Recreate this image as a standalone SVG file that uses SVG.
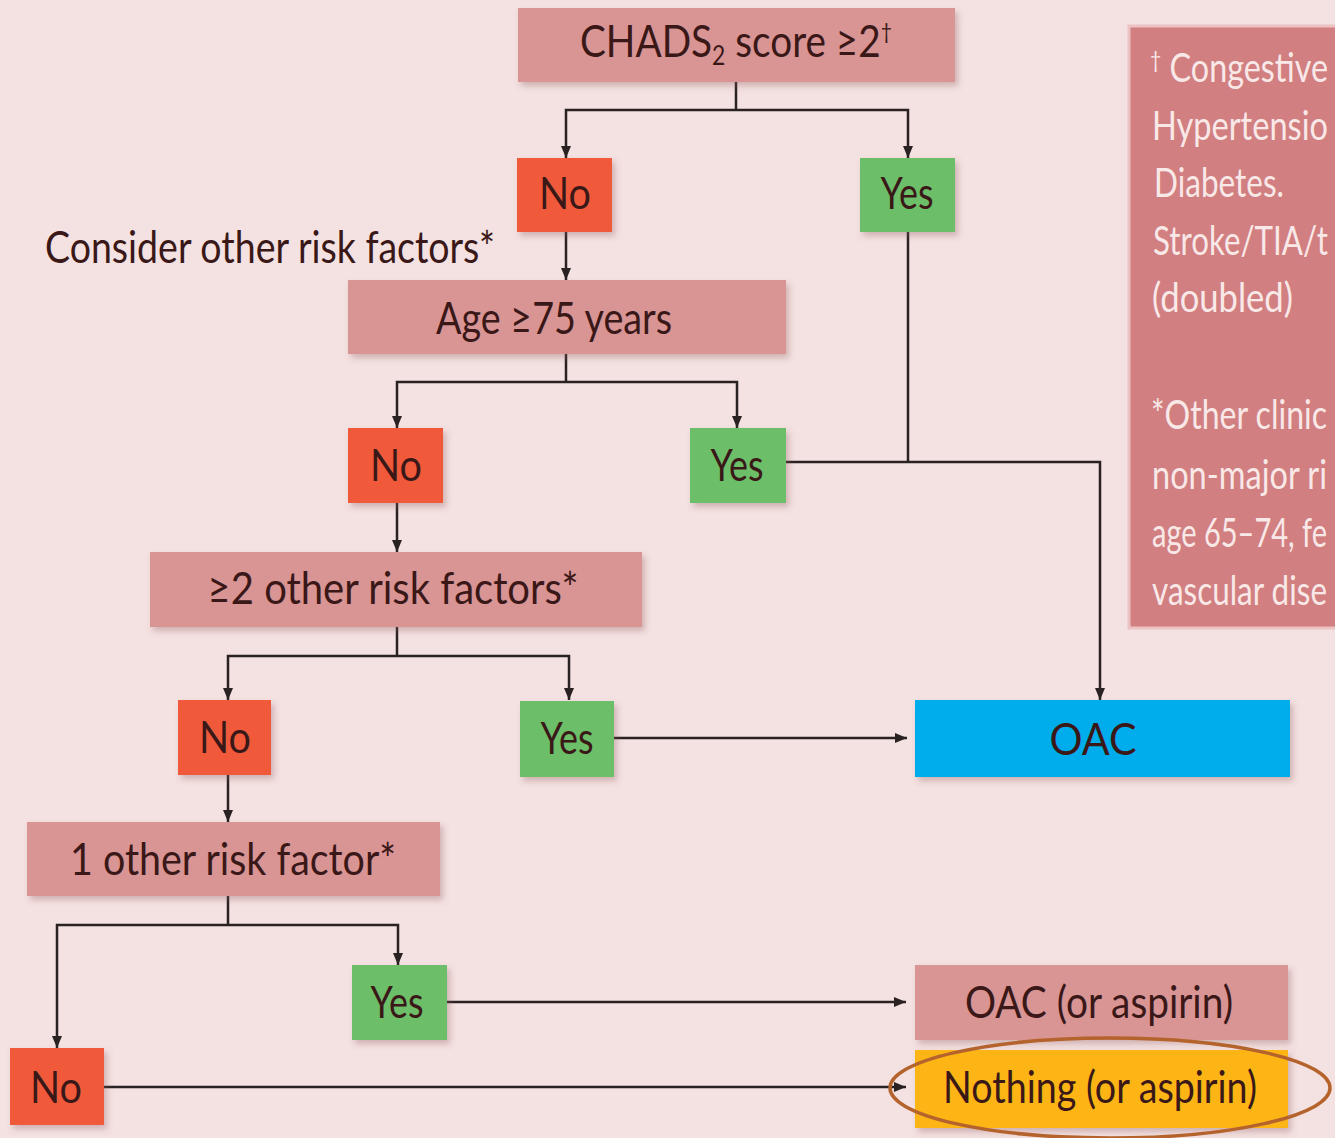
<svg xmlns="http://www.w3.org/2000/svg" width="1335" height="1138" viewBox="0 0 1335 1138">
<style>
.t{font-family:Lato,"Liberation Sans",sans-serif;font-size:44px;fill:#3a1818;text-anchor:middle}
.pk{fill:#d99494}
.no{fill:#f05a3a}
.yes{fill:#6cbf67}
.c{fill:none;stroke:#2a2222;stroke-width:2.5}
.lg{font-family:Lato,"Liberation Sans",sans-serif;font-size:40px;fill:#f9e8e8}
</style>
<defs>
<marker id="ah" viewBox="0 0 12 10" markerWidth="12" markerHeight="10" refX="12" refY="5" orient="auto-start-reverse" markerUnits="userSpaceOnUse">
<path d="M0,0 L12,5 L0,10 z" fill="#2a2222"/>
</marker>
<filter id="sh" x="-10%" y="-10%" width="130%" height="140%">
<feDropShadow dx="3" dy="4" stdDeviation="3" flood-color="#8a5a5a" flood-opacity="0.35"/>
</filter>
</defs>
<rect x="0" y="0" width="1335" height="1138" fill="#f4e1e1"/>

<g id="connectors">
<path class="c" d="M736,82 V110"/>
<path class="c" d="M566,158 V110 H908 V158" marker-start="url(#ah)" marker-end="url(#ah)"/>
<path class="c" d="M566,232 V280" marker-end="url(#ah)"/>
<path class="c" d="M566,354 V382"/>
<path class="c" d="M397,428 V382 H737 V428" marker-start="url(#ah)" marker-end="url(#ah)"/>
<path class="c" d="M908,232 V462"/>
<path class="c" d="M786,462 H1100 V700" marker-end="url(#ah)"/>
<path class="c" d="M397,503 V552" marker-end="url(#ah)"/>
<path class="c" d="M397,627 V656"/>
<path class="c" d="M228,700 V656 H569 V700" marker-start="url(#ah)" marker-end="url(#ah)"/>
<path class="c" d="M614,738 H907" marker-end="url(#ah)"/>
<path class="c" d="M228,775 V822" marker-end="url(#ah)"/>
<path class="c" d="M228,896 V925"/>
<path class="c" d="M57,1048 V925 H398 V965" marker-start="url(#ah)" marker-end="url(#ah)"/>
<path class="c" d="M447,1002 H906" marker-end="url(#ah)"/>
<path class="c" d="M104,1087 H906" marker-end="url(#ah)"/>
</g>

<g id="chads">
<rect class="pk" x="518" y="8" width="437" height="74" filter="url(#sh)"/>
<text class="t" x="736" y="57" textLength="312" lengthAdjust="spacingAndGlyphs">CHADS<tspan font-size="26" dy="8">2</tspan><tspan dy="-8"> score ≥2</tspan><tspan font-size="22" dy="-18">†</tspan></text>
</g>
<g id="no1">
<rect class="no" x="517" y="158" width="95" height="74" filter="url(#sh)"/>
<text class="t" x="565" y="209" textLength="52" lengthAdjust="spacingAndGlyphs">No</text>
</g>
<g id="yes1">
<rect class="yes" x="860" y="158" width="95" height="74" filter="url(#sh)"/>
<text class="t" x="907" y="209" textLength="53" lengthAdjust="spacingAndGlyphs">Yes</text>
</g>
<g id="consider">
<text class="t" x="270" y="263" font-size="40" textLength="450" lengthAdjust="spacingAndGlyphs">Consider other risk factors*</text>
</g>
<g id="age">
<rect class="pk" x="348" y="280" width="438" height="74" filter="url(#sh)"/>
<text class="t" x="554" y="334" textLength="236" lengthAdjust="spacingAndGlyphs">Age ≥75 years</text>
</g>
<g id="no2">
<rect class="no" x="348" y="428" width="95" height="75" filter="url(#sh)"/>
<text class="t" x="396" y="481" textLength="52" lengthAdjust="spacingAndGlyphs">No</text>
</g>
<g id="yes2">
<rect class="yes" x="690" y="428" width="96" height="75" filter="url(#sh)"/>
<text class="t" x="737" y="481" textLength="53" lengthAdjust="spacingAndGlyphs">Yes</text>
</g>
<g id="two-other">
<rect class="pk" x="150" y="552" width="492" height="75" filter="url(#sh)"/>
<text class="t" x="393" y="604" textLength="371" lengthAdjust="spacingAndGlyphs">≥2 other risk factors*</text>
</g>
<g id="no3">
<rect class="no" x="178" y="700" width="93" height="75" filter="url(#sh)"/>
<text class="t" x="225" y="753" textLength="52" lengthAdjust="spacingAndGlyphs">No</text>
</g>
<g id="yes3">
<rect class="yes" x="520" y="701" width="94" height="76" filter="url(#sh)"/>
<text class="t" x="567" y="754" textLength="53" lengthAdjust="spacingAndGlyphs">Yes</text>
</g>
<g id="oac">
<rect x="915" y="700" width="375" height="77" fill="#00adec" filter="url(#sh)"/>
<text class="t" x="1093" y="755" textLength="87" lengthAdjust="spacingAndGlyphs">OAC</text>
</g>
<g id="one-other">
<rect class="pk" x="27" y="822" width="413" height="74" filter="url(#sh)"/>
<text class="t" x="233" y="875" textLength="326" lengthAdjust="spacingAndGlyphs">1 other risk factor*</text>
</g>
<g id="yes4">
<rect class="yes" x="352" y="965" width="95" height="75" filter="url(#sh)"/>
<text class="t" x="397" y="1018" textLength="53" lengthAdjust="spacingAndGlyphs">Yes</text>
</g>
<g id="oac-aspirin">
<rect class="pk" x="915" y="965" width="373" height="75" filter="url(#sh)"/>
<text class="t" x="1099" y="1018" textLength="268" lengthAdjust="spacingAndGlyphs">OAC (or aspirin)</text>
</g>
<g id="no4">
<rect class="no" x="10" y="1048" width="94" height="77" filter="url(#sh)"/>
<text class="t" x="56" y="1103" textLength="52" lengthAdjust="spacingAndGlyphs">No</text>
</g>
<g id="nothing">
<rect x="915" y="1050" width="373" height="78" fill="#fdb515" filter="url(#sh)"/>
<text class="t" x="1100" y="1103" textLength="314" lengthAdjust="spacingAndGlyphs">Nothing (or aspirin)</text>
<ellipse cx="1110" cy="1088" rx="220" ry="50" fill="none" stroke="#b5632c" stroke-width="3.5"/>
</g>
<g id="legend">
<rect x="1129" y="26" width="220" height="602" fill="#d17f80" stroke="#ecc2c2" stroke-width="3"/>
<text class="lg" x="1150" y="82" textLength="178" lengthAdjust="spacingAndGlyphs"><tspan font-size="24" dy="-14">†</tspan><tspan dy="14"> Congestive</tspan></text>
<text class="lg" x="1152" y="140" textLength="176" lengthAdjust="spacingAndGlyphs">Hypertensio</text>
<text class="lg" x="1154" y="197" textLength="130" lengthAdjust="spacingAndGlyphs">Diabetes.</text>
<text class="lg" x="1153" y="255" textLength="175" lengthAdjust="spacingAndGlyphs">Stroke/TIA/t</text>
<text class="lg" x="1152" y="312" textLength="141" lengthAdjust="spacingAndGlyphs">(doubled)</text>
<text class="lg" x="1151" y="429" textLength="176" lengthAdjust="spacingAndGlyphs">*Other clinic</text>
<text class="lg" x="1152" y="489" textLength="175" lengthAdjust="spacingAndGlyphs">non-major ri</text>
<text class="lg" x="1152" y="547" textLength="175" lengthAdjust="spacingAndGlyphs">age 65–74, fe</text>
<text class="lg" x="1152" y="605" textLength="175" lengthAdjust="spacingAndGlyphs">vascular dise</text>
</g>
</svg>
